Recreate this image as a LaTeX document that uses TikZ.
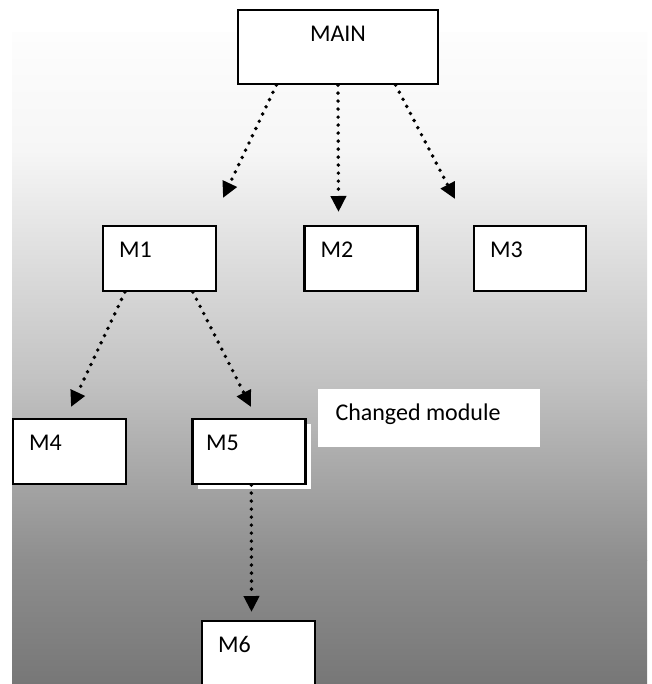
\documentclass[tikz,border=0pt]{standalone}
\usepackage{fontspec}
\setmainfont{Carlito}
\usetikzlibrary{arrows.meta,calc}

% grey ramp of the backdrop, top to bottom
\definecolor{bgA}{RGB}{253,253,253}
\definecolor{bgB}{RGB}{246,246,246}
\definecolor{bgC}{RGB}{194,194,194}
\definecolor{bgD}{RGB}{142,142,142}
\definecolor{bgE}{RGB}{119,119,119}

\begin{document}
\begin{tikzpicture}[x=1pt,y=-1pt,
  modbox/.style={draw=black, line width=2.2pt, fill=white, inner sep=0pt,
                 minimum width=113pt, minimum height=65pt},
  lbl/.style={inner sep=0pt, anchor=base west,
              font=\fontsize{24}{28}\selectfont},
  flow/.style={line width=3.9pt, line cap=round,
               dash pattern=on 0pt off 8pt,
               -{Triangle[length=16pt,width=15pt]}}]

\useasboundingbox (0,0) rectangle (651,684);
\clip (0,0) rectangle (651,684);

% backdrop: white page with a vertical grey ramp
\fill[white] (0,0) rectangle (651,684);
\shade[top color=bgA, bottom color=bgB] (12,33) rectangle (647,150.5);
\shade[top color=bgB, bottom color=bgC] (12,150) rectangle (647,380.5);
\shade[top color=bgC, bottom color=bgD] (12,380) rectangle (647,560.5);
\shade[top color=bgD, bottom color=bgE] (12,560) rectangle (647,684);

% modules
\node[modbox, minimum width=200pt, minimum height=74pt] (main) at (338,47) {};
\node[lbl, anchor=base] (tmain) at ($(main.north)+(0,33)$) {MAIN};

\node[modbox] (m1) at (159.5,258.5) {};
\node[lbl] (t1) at ($(m1.north west)+(17,33)$) {M1};

\node[modbox] (m2) at (361,258.5) {};
\node[lbl] (t2) at ($(m2.north west)+(17,33)$) {M2};

\node[modbox, minimum width=112pt] (m3) at (530,258.5) {};
\node[lbl] (t3) at ($(m3.north west)+(17,33)$) {M3};

\node[modbox] (m4) at (69.5,451.5) {};
\node[lbl] (t4) at ($(m4.north west)+(17,33)$) {M4};

% M5 with its white offset shadow
\node[fill=white, inner sep=0pt, minimum width=113pt, minimum height=65pt]
  (m5shadow) at (254.5,456.5) {};
\node[modbox] (m5) at (249,451.5) {};
\node[lbl] (t5) at ($(m5.north west)+(14.5,33)$) {M5};

% note beside the changed module
\node[fill=white, inner sep=0pt, minimum width=222pt, minimum height=58pt]
  (note) at (429,418) {};
\node[lbl] (tnote) at ($(note.north west)+(17.5,32)$) {Changed module};

\node[modbox] (m6) at (258.5,653.5) {};
\node[lbl] (t6) at ($(m6.north west)+(17,33)$) {M6};

% arrow tips
\coordinate (h1) at (223,198);
\coordinate (h2) at (338.5,212);
\coordinate (h3) at (455,199);
\coordinate (h4) at (71,407);
\coordinate (h5) at (251,407);
\coordinate (h6) at (251.5,612);

% calls
\draw[flow] ($(main.south west)!0.195!(main.south east)$) -- (h1);
\draw[flow] (main.south) -- (h2);
\draw[flow] ($(main.south west)!0.785!(main.south east)$) -- (h3);
\draw[flow] ($(m1.south west)!0.2!(m1.south east)$) -- (h4);
\draw[flow] ($(m1.south west)!0.79!(m1.south east)$) -- (h5);
\draw[flow] ($(m5.south west)!0.52!(m5.south east)$) -- (h6);
\end{tikzpicture}
\end{document}
